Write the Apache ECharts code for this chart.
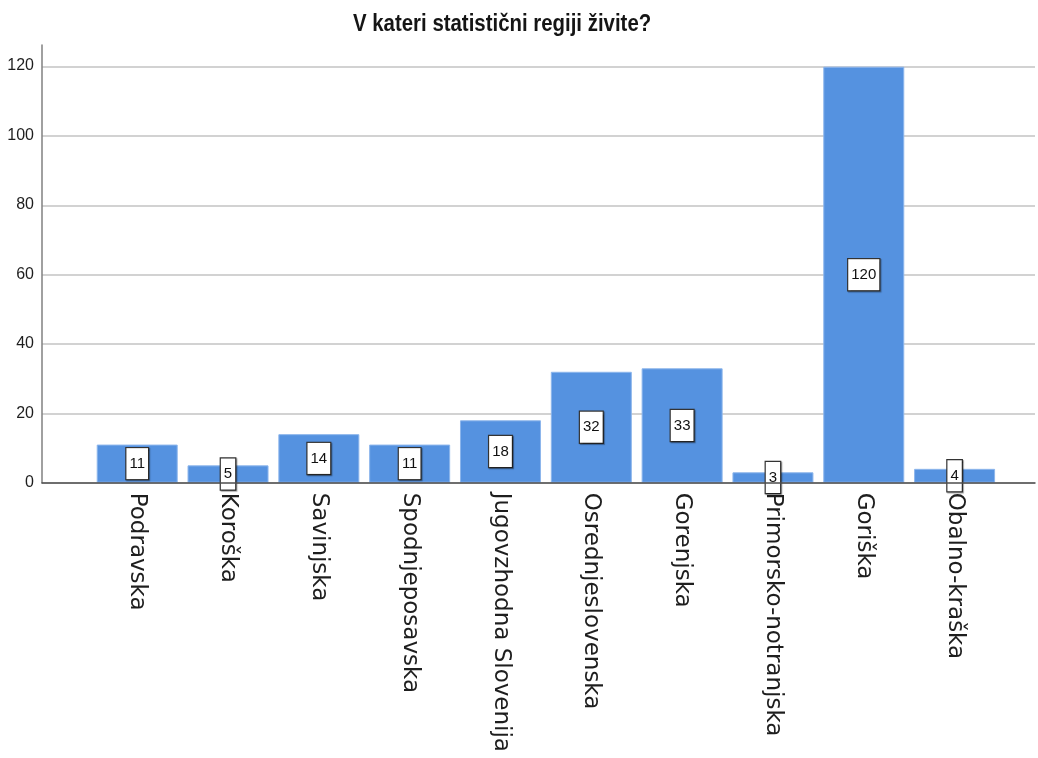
<!DOCTYPE html>
<html>
<head>
<meta charset="utf-8">
<title>V kateri statistični regiji živite?</title>
<script src="https://cdn.jsdelivr.net/npm/echarts@6/dist/echarts.min.js"></script>
<style>
  html, body { margin: 0; padding: 0; background: #ffffff; }
  #chart { width: 1038px; height: 758px; }
</style>
</head>
<body>
<div id="chart"></div>
<script>
// Regions and number of respondents per region
const categories = [
  'Podravska', 'Koroška', 'Savinjska', 'Spodnjeposavska', 'Jugovzhodna Slovenija',
  'Osrednjeslovenska', 'Gorenjska', 'Primorsko-notranjska', 'Goriška', 'Obalno-kraška'
];
const counts = [11, 5, 14, 11, 18, 32, 33, 3, 120, 4];
const titleText = 'V kateri statistični regiji živite?';
const yTickStep = 20;
const yTopTick = 120;

const chart = echarts.init(document.getElementById('chart'), null, { renderer: 'canvas' });

const plotBottom = 275.3;   // distance of the baseline from the bottom edge
const frameTop = 45;        // top of the vertical axis line
const tickTop = 66.7;       // position of the highest tick (120)
const sans = "'Liberation Sans', Arial, sans-serif";

chart.setOption({
  animation: false,
  // condensed bold title
  graphic: [{
    type: 'text',
    x: 353,
    y: 13,
    scaleX: 0.887,
    style: {
      text: titleText,
      font: "bold 23px 'Liberation Sans', Arial, sans-serif",
      fill: '#151515',
      textAlign: 'left',
      textVerticalAlign: 'top'
    }
  }],
  grid: [
    // frame: vertical axis with labels and the baseline
    { left: 42, right: 3, top: frameTop, bottom: plotBottom, outerBoundsMode: 'none' },
    // horizontal grid lines
    { left: 42, right: 3, top: tickTop, bottom: plotBottom, outerBoundsMode: 'none' },
    // bars and category labels
    { left: 91.8, right: 38, top: tickTop, bottom: plotBottom, outerBoundsMode: 'none' }
  ],
  xAxis: [
    {
      gridIndex: 0, type: 'category', data: categories, z: 5,
      axisLine: { show: true, lineStyle: { color: '#4d4d4d', width: 1.5 } },
      axisTick: { show: false }, axisLabel: { show: false }, splitLine: { show: false }
    },
    {
      gridIndex: 1, type: 'category', data: categories, show: false
    },
    {
      gridIndex: 2, type: 'category', data: categories,
      axisLine: { show: false }, axisTick: { show: false },
      axisLabel: {
        interval: 0, rotate: -90, margin: 10,
        fontFamily: "'DejaVu Sans', sans-serif", fontSize: 23, color: '#1e1e1e'
      }
    }
  ],
  yAxis: [
    {
      gridIndex: 0, type: 'value', min: 0, max: 126, interval: yTickStep, z: 5,
      axisLine: { show: true, lineStyle: { color: '#808080', width: 1.5 } },
      axisTick: { show: false }, splitLine: { show: false },
      axisLabel: {
        showMaxLabel: false, margin: 8,
        fontFamily: sans, fontSize: 16, color: '#1e1e1e',
        formatter: v => (v % yTickStep === 0 && v <= yTopTick) ? String(v) : ''
      }
    },
    {
      gridIndex: 1, type: 'value', min: 0, max: yTopTick, interval: yTickStep,
      axisLine: { show: false }, axisTick: { show: false }, axisLabel: { show: false },
      splitLine: { show: true, lineStyle: { color: '#d2d2d2', width: 2 } }
    },
    {
      gridIndex: 2, type: 'value', min: 0, max: yTopTick, interval: yTickStep, show: false
    }
  ],
  series: [{
    type: 'bar',
    xAxisIndex: 2,
    yAxisIndex: 2,
    data: counts,
    barWidth: 81,
    itemStyle: { color: '#5592e0', borderColor: '#8db6ec', borderWidth: 1 },
    label: {
      show: true,
      position: 'inside',
      formatter: '{c}',
      fontFamily: sans,
      fontSize: 15,
      lineHeight: 15,
      color: '#111111',
      backgroundColor: '#ffffff',
      borderColor: '#333333',
      borderWidth: 1.2,
      padding: [8, 3, 8, 3],
      shadowColor: 'rgba(0,0,0,0.35)',
      shadowOffsetX: 1,
      shadowOffsetY: 1,
      shadowBlur: 1
    },
    z: 3
  }]
});
</script>
</body>
</html>
